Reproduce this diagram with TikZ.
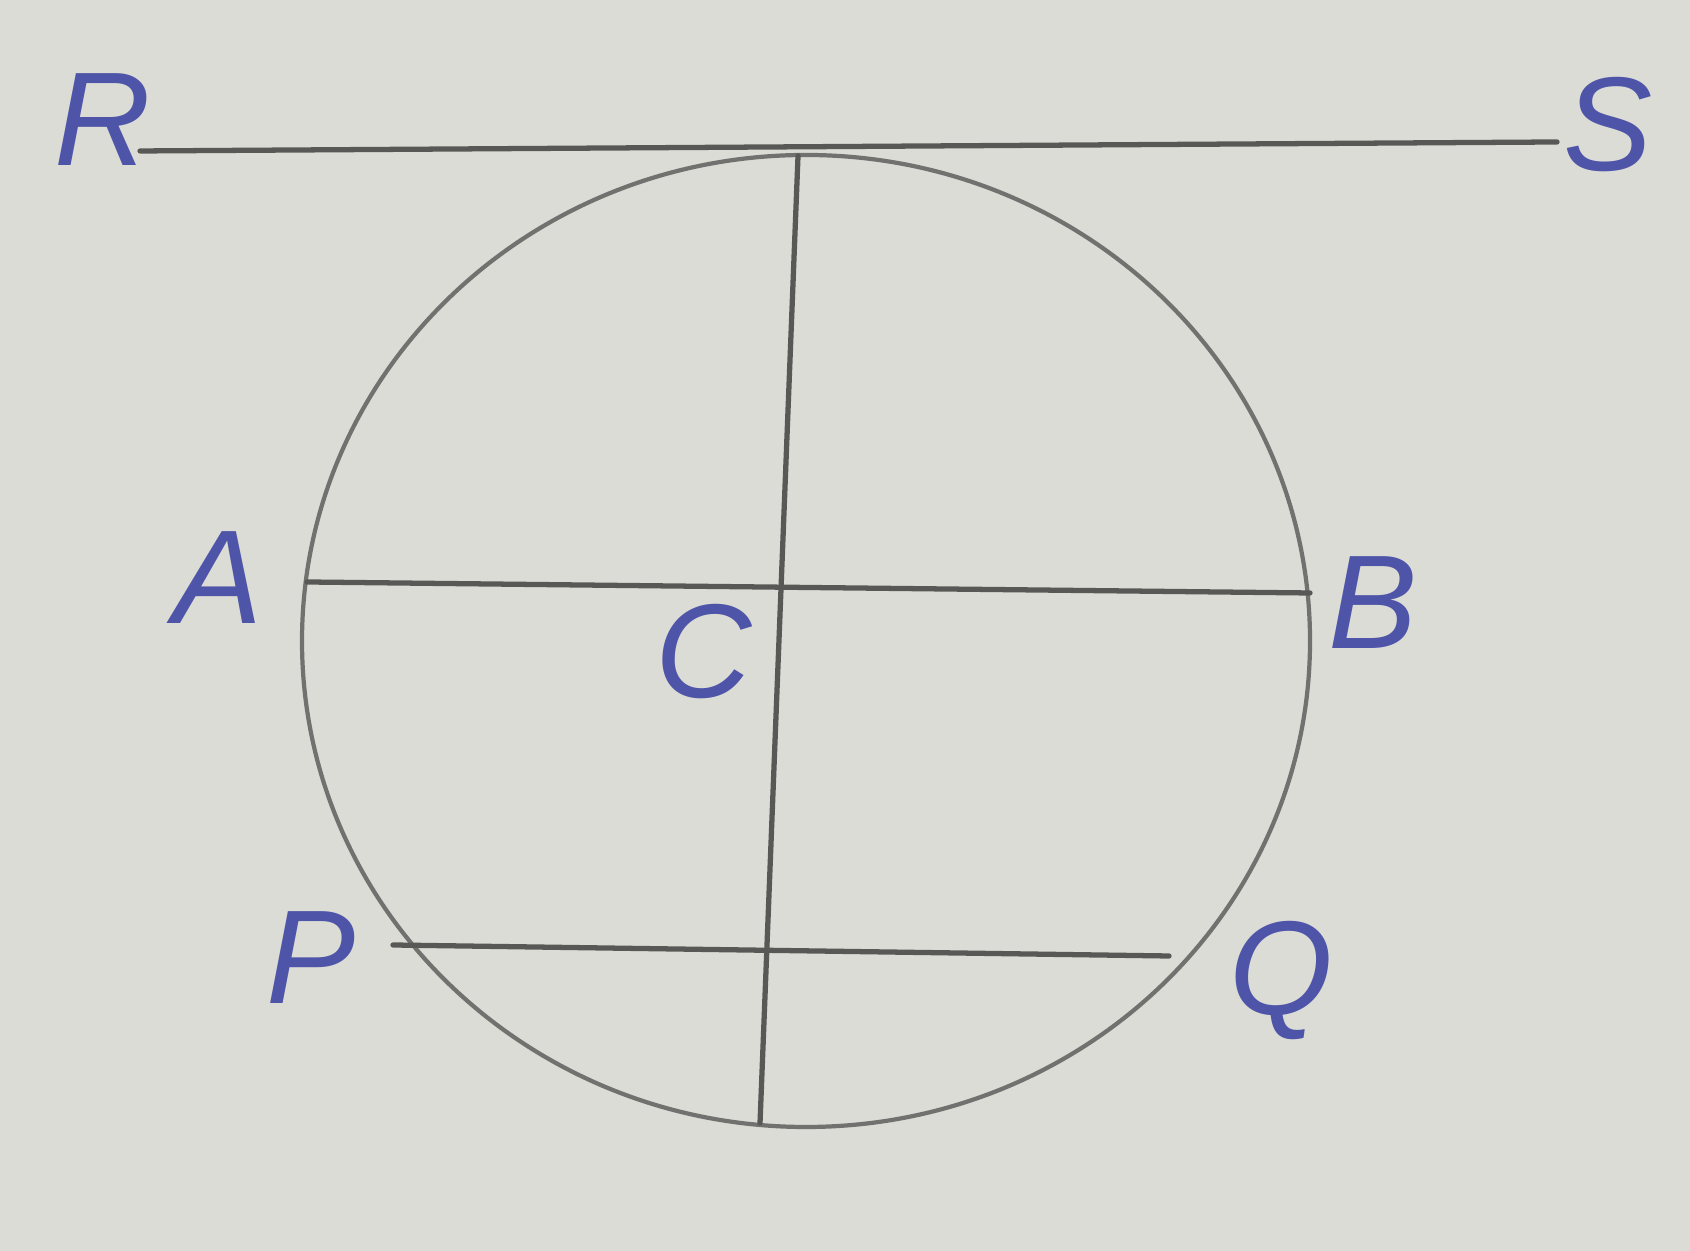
\documentclass[tikz,border=0pt]{standalone}
\usepackage{fontspec}
\setmainfont{Liberation Sans}
\definecolor{paper}{RGB}{220,220,214}
\definecolor{pencil}{RGB}{88,88,86}
\definecolor{ink}{RGB}{78,84,168}
\begin{document}
\begin{tikzpicture}
\tikzset{
  pen/.style={draw=pencil, line width=1.5pt, line cap=round},
  rim/.style={draw=pencil!85, line width=1.2pt},
  lbl/.style={text=ink, font=\fontsize{38}{40}\selectfont\itshape, inner sep=0pt}
}
\fill[paper] (0,0) rectangle (16.90,12.51);
\useasboundingbox (0,0) rectangle (16.90,12.51);
% points
\coordinate (r) at (1.40,11.00);
\coordinate (s) at (15.57,11.09);
\coordinate (t) at (7.98,10.95);
\coordinate (u) at (7.60,1.28);
\coordinate (a) at (3.07,6.69);
\coordinate (b) at (13.10,6.58);
\coordinate (p) at (3.93,3.06);
\coordinate (q) at (11.69,2.95);
\coordinate (o) at (8.06,6.10);
% circle
\draw[rim] (o) ellipse [x radius=5.04, y radius=4.86];
% lines
\draw[pen] (r) -- (s);
\draw[pen] (t) -- (u);
\draw[pen] (a) -- (b);
\draw[pen] (p) -- (q);
% labels
\node[lbl] (lR) at (1.03,8.31+3.0) {R};
\node[lbl] (lS) at (16.08,11.26) {S};
\node[lbl] (lA) at (2.18,6.73) {A};
\node[lbl] (lC) at (7.04,5.99) {C};
\node[lbl] (lB) at (13.73,6.48) {B};
\node[lbl] (lP) at (3.11,2.93) {P};
\node[lbl] (lQ) at (12.81,2.71) {Q};
\end{tikzpicture}
\end{document}
